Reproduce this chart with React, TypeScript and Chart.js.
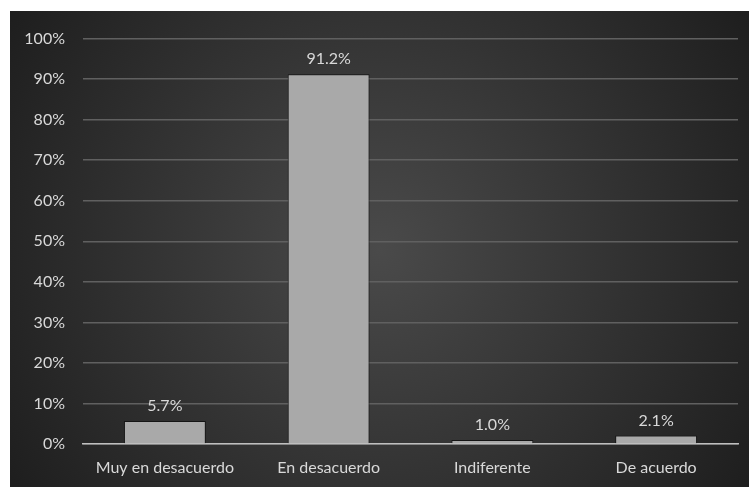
import React, { useEffect, useRef } from "react";
import { Chart, registerables } from "chart.js";

Chart.register(...registerables);

const categories = ["Muy en desacuerdo", "En desacuerdo", "Indiferente", "De acuerdo"];
const values = [5.7, 91.2, 1.0, 2.1];
const valueLabels = ["5.7%", "91.2%", "1.0%", "2.1%"];
const yTicks = [0, 10, 20, 30, 40, 50, 60, 70, 80, 90, 100];

const FONT = "Lato, 'Open Sans', sans-serif";

const bgPlugin = {
  id: "bgGradient",
  beforeDraw(chart: any) {
    const { ctx, width, height } = chart;
    const cx = width / 2;
    const cy = height / 2;
    const r = Math.sqrt(cx * cx + cy * cy);
    const g = ctx.createRadialGradient(cx, cy, 0, cx, cy, r);
    g.addColorStop(0, "#4a4a4a");
    g.addColorStop(1, "#1e1e1e");
    ctx.save();
    ctx.fillStyle = g;
    ctx.fillRect(0, 0, width, height);
    ctx.restore();
  },
};

const labelPlugin = {
  id: "valueLabels",
  afterDatasetsDraw(chart: any) {
    const { ctx } = chart;
    const meta = chart.getDatasetMeta(0);
    ctx.save();
    ctx.font = `16px ${FONT}`;
    ctx.fillStyle = "#d9d9d9";
    ctx.textAlign = "center";
    ctx.textBaseline = "bottom";
    meta.data.forEach((bar: any, i: number) => {
      ctx.fillText(valueLabels[i], bar.x, bar.y - 7);
    });
    ctx.restore();
  },
};

export default function App() {
  const ref = useRef<HTMLCanvasElement>(null);
  useEffect(() => {
    if (!ref.current) return;
    const chart = new Chart(ref.current, {
      type: "bar",
      data: {
        labels: categories,
        datasets: [
          {
            data: values,
            backgroundColor: "#a9a9a9",
            borderColor: "#151515",
            borderWidth: 1,
            categoryPercentage: 1,
            barPercentage: 0.5,
          },
        ],
      },
      options: {
        animation: false,
        responsive: true,
        maintainAspectRatio: false,
        layout: { padding: { top: 23, right: 11, left: 0, bottom: 0 } },
        plugins: { legend: { display: false }, tooltip: { enabled: false } },
        scales: {
          x: {
            grid: { display: false, drawTicks: false },
            border: { color: "#bfbfbf", width: 1.5 },
            ticks: { color: "#d9d9d9", font: { family: FONT, size: 16 }, padding: 14 },
            afterFit(scale: any) {
              scale.height = 43;
            },
          },
          y: {
            min: 0,
            max: 100,
            afterBuildTicks(scale: any) {
              scale.ticks = yTicks.map((v) => ({ value: v }));
            },
            grid: { color: "#606060", lineWidth: 1.5, drawTicks: false },
            border: { display: false },
            ticks: {
              color: "#d9d9d9",
              font: { family: FONT, size: 16 },
              padding: 18,
              callback: (v: any) => `${v}%`,
            },
            afterFit(scale: any) {
              scale.width = 73;
            },
          },
        },
      },
      plugins: [bgPlugin, labelPlugin],
    });
    return () => chart.destroy();
  }, []);
  return (
    <div style={{ position: "fixed", left: 10, top: 11, width: 739, height: 476 }}>
      <canvas ref={ref} />
    </div>
  );
}
